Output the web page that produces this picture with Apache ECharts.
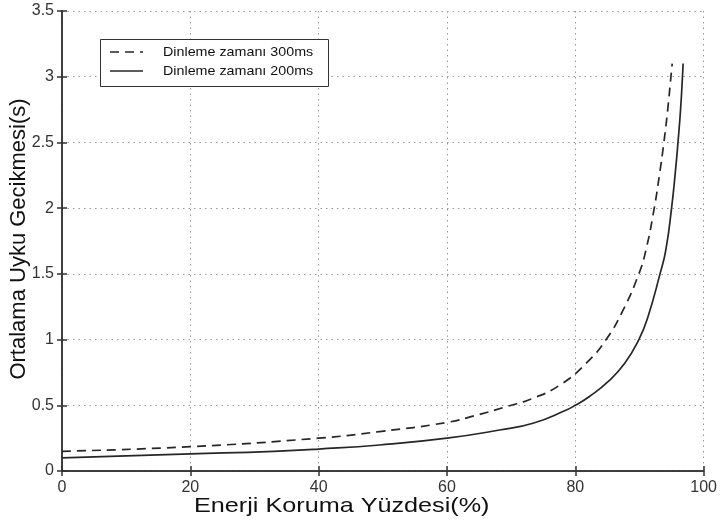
<!DOCTYPE html>
<html>
<head>
<meta charset="utf-8">
<script src="https://cdn.jsdelivr.net/npm/echarts@6/dist/echarts.min.js"></script>
<style>
html,body{margin:0;padding:0;background:#fff;}
#c{width:720px;height:523px;}
</style>
</head>
<body>
<div id="c"></div>
<script>
// Data
const xTitle = 'Enerji Koruma Yüzdesi(%)';
const yTitle = 'Ortalama Uyku Gecikmesi(s)';
const seriesNames = ['Dinleme zamanı 300ms', 'Dinleme zamanı 200ms'];

const x300 = [0, 20, 40, 49.5, 60, 65, 69.3, 73.4, 77.6, 81.7, 84.8, 87.4, 89.9, 91.0, 92.3, 93.1, 93.8, 94.4, 94.9, 95.1];
const y300 = [0.15, 0.185, 0.25, 0.30, 0.37, 0.43, 0.49, 0.553, 0.654, 0.82, 1.0, 1.22, 1.5, 1.68, 2.0, 2.25, 2.5, 2.75, 3.0, 3.1];

const x200 = [0, 10, 20, 33, 40, 49.5, 60, 68.2, 73.4, 78.6, 80, 82.2, 85.1, 87.7, 89.9, 91.3, 93.2, 94.1, 95.0, 95.6, 96.0, 96.4, 96.7, 96.8];
const y200 = [0.10, 0.115, 0.13, 0.15, 0.167, 0.198, 0.25, 0.312, 0.363, 0.464, 0.50, 0.567, 0.68, 0.82, 1.0, 1.17, 1.5, 1.68, 2.0, 2.28, 2.5, 2.75, 3.0, 3.1];

const pairs = (xs, ys) => xs.map((x, i) => [x, ys[i]]);

const chart = echarts.init(document.getElementById('c'), null, {renderer: 'canvas'});
const lineColor = '#262626';
const font = 'Liberation Sans, Arial, Helvetica, sans-serif';
const dashPattern = [9, 6];

chart.setOption({
  animation: false,
  backgroundColor: '#fff',
  grid: {left: 62, right: 16, top: 11, bottom: 52, containLabel: false},
  graphic: [
    // x-axis title
    {type: 'text', x: 194, y: 496, scaleX: 1.2, originX: 0, originY: 0,
     style: {text: xTitle, font: '21px ' + font, fill: '#111'}},
    // y-axis title
    {type: 'text', x: 8, y: 239, rotation: Math.PI / 2,
     style: {text: yTitle, font: '22px ' + font, fill: '#111', align: 'center', verticalAlign: 'top'}},
    // legend box
    {type: 'rect', shape: {x: 100.5, y: 39.5, width: 228, height: 47},
     style: {fill: '#fff', stroke: '#333', lineWidth: 1}, z: 10},
    {type: 'line', shape: {x1: 110, y1: 52, x2: 143, y2: 52},
     style: {stroke: lineColor, lineWidth: 1.5, lineDash: dashPattern}, z: 11},
    {type: 'line', shape: {x1: 110, y1: 71, x2: 143, y2: 71},
     style: {stroke: lineColor, lineWidth: 1.5}, z: 11},
    {type: 'text', x: 163, y: 52, scaleX: 1.1, originX: 0, originY: 0, z: 11,
     style: {text: seriesNames[0], font: '13px ' + font, fill: '#111', verticalAlign: 'middle'}},
    {type: 'text', x: 163, y: 71, scaleX: 1.1, originX: 0, originY: 0, z: 11,
     style: {text: seriesNames[1], font: '13px ' + font, fill: '#111', verticalAlign: 'middle'}}
  ],
  xAxis: [{
    type: 'value', min: 0, max: 100, interval: 20,
    position: 'bottom',
    axisLine: {show: true, lineStyle: {color: '#333', width: 1.5}},
    axisTick: {show: true, inside: true, length: 5, lineStyle: {color: '#333', width: 1.5}},
    axisLabel: {fontFamily: font, fontSize: 16, color: '#333', margin: 9},
    splitLine: {show: true, lineStyle: {color: '#999', type: [1.5, 4], width: 1}}
  }, {
    type: 'value', min: 0, max: 100, interval: 20,
    position: 'top',
    axisLine: {show: true, lineStyle: {color: '#333', width: 1.5}},
    axisTick: {show: true, inside: true, length: 5, lineStyle: {color: '#333', width: 1.5}},
    axisLabel: {show: false},
    splitLine: {show: false}
  }],
  yAxis: [{
    type: 'value', min: 0, max: 3.5, interval: 0.5,
    position: 'left',
    axisLine: {show: true, lineStyle: {color: '#333', width: 1.5}},
    axisTick: {show: true, inside: true, length: 5, lineStyle: {color: '#333', width: 1.5}},
    axisLabel: {fontFamily: font, fontSize: 16, color: '#333', margin: 8},
    splitLine: {show: true, lineStyle: {color: '#999', type: [1.5, 4], width: 1}}
  }, {
    type: 'value', min: 0, max: 3.5, interval: 0.5,
    position: 'right',
    axisLine: {show: true, lineStyle: {color: '#333', width: 1.5}},
    axisTick: {show: true, inside: true, length: 5, lineStyle: {color: '#333', width: 1.5}},
    axisLabel: {show: false},
    splitLine: {show: false}
  }],
  series: [{
    name: seriesNames[0], type: 'line', smooth: 0.5,
    symbol: 'none', xAxisIndex: 0, yAxisIndex: 0,
    data: pairs(x300, y300),
    lineStyle: {color: lineColor, width: 1.7, type: dashPattern},
    itemStyle: {color: lineColor}
  }, {
    name: seriesNames[1], type: 'line', smooth: 0.5,
    symbol: 'none', xAxisIndex: 0, yAxisIndex: 0,
    data: pairs(x200, y200),
    lineStyle: {color: lineColor, width: 1.7, type: 'solid'},
    itemStyle: {color: lineColor}
  }]
});
</script>
</body>
</html>
